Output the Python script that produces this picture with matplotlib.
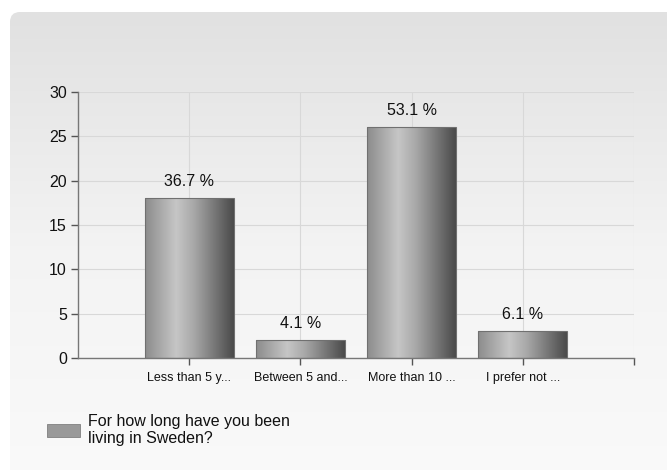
import numpy as np
import matplotlib.pyplot as plt
from matplotlib.patches import FancyBboxPatch, Rectangle
from matplotlib.colors import LinearSegmentedColormap

plt.rcParams['font.family'] = ['Liberation Sans', 'DejaVu Sans']

categories = ['Less than 5 y...', 'Between 5 and...', 'More than 10 ...', 'I prefer not ...']
counts = [18, 2, 26, 3]
percents = ['36.7 %', '4.1 %', '53.1 %', '6.1 %']
yticks = [0, 5, 10, 15, 20, 25, 30]
legend_label = 'For how long have you been\nliving in Sweden?'

W, H = 667, 470
fig = plt.figure(figsize=(W / 100, H / 100), dpi=100)
fig.patch.set_facecolor('white')

# background panel with vertical gradient
bg = fig.add_axes([0, 0, 1, 1])
bg.set_xlim(0, W)
bg.set_ylim(H, 0)
bg.axis('off')
grad = np.linspace(0, 1, 256).reshape(-1, 1)
bgcmap = LinearSegmentedColormap.from_list('bg', ['#e1e1e1', '#f3f3f3', '#fafafa'])
im = bg.imshow(grad, cmap=bgcmap, extent=[10, W + 10, H + 10, 12], aspect='auto', zorder=0)
panel = FancyBboxPatch((10, 12), W, H, boxstyle='round,pad=0,rounding_size=10',
                       facecolor='none', edgecolor='none', transform=bg.transData)
bg.add_patch(panel)
im.set_clip_path(panel)

# plot axes: x 78..634, y 92..358 (pixels)
ax = fig.add_axes([78 / W, 1 - 358 / H, (634 - 78) / W, (358 - 92) / H])
ax.patch.set_alpha(0)
ax.set_xlim(-1, 4)
ax.set_ylim(0, 30)
ax.set_yticks(yticks)
ax.set_xticks(list(range(len(categories))) + [4])
ax.set_xticklabels(categories + [''], fontsize=9)
ax.tick_params(axis='y', labelsize=11.5, colors='#555555', labelcolor='#111111', length=5, width=1, pad=3)
ax.tick_params(axis='x', colors='#555555', labelcolor='#111111', length=5, width=1, pad=5)
ax.grid(True, color='#d8d8d8', linewidth=0.8)
ax.set_axisbelow(True)
for s in ['top', 'right']:
    ax.spines[s].set_visible(False)
for s in ['left', 'bottom']:
    ax.spines[s].set_color('#777777')
    ax.spines[s].set_linewidth(1)

barcmap = LinearSegmentedColormap.from_list(
    'bar', [(0, '#8c8c8c'), (0.35, '#c6c6c6'), (0.55, '#a8a8a8'), (1, '#4a4a4a')])
hgrad = np.linspace(0, 1, 256).reshape(1, -1)
width = 0.8
bars = ax.bar(range(len(categories)), counts, width=width, facecolor='none',
              edgecolor='#707070', linewidth=0.8, zorder=3)
for b, pct in zip(bars, percents):
    x0, h = b.get_x(), b.get_height()
    gi = ax.imshow(hgrad, cmap=barcmap, extent=[x0, x0 + width, 0, h],
                   aspect='auto', zorder=2)
    gi.set_clip_path(b)
    ax.text(x0 + width / 2, h + 1.1, pct, ha='center', va='bottom', fontsize=11.5, color='#111111')
ax.set_xlim(-1, 4)
ax.set_ylim(0, 30)

# legend
bg.add_patch(Rectangle((47, 424), 33, 13, facecolor='#999999', edgecolor='#808080', linewidth=0.6))
bg.text(88, 430, legend_label, ha='left', va='center', fontsize=11.5, color='#111111',
        linespacing=1.1)

fig.savefig('out.png', dpi=100)
